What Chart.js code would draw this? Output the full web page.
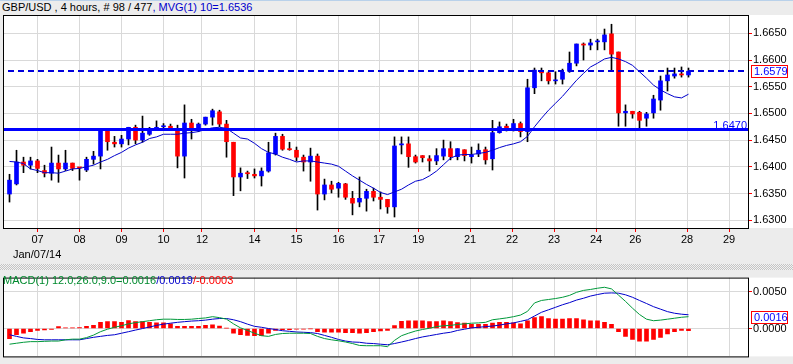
<!DOCTYPE html>
<html>
<head>
<meta charset="utf-8">
<script src="https://cdn.jsdelivr.net/npm/chart.js@4.4.1/dist/chart.umd.min.js"></script>
<style>
  html, body { margin: 0; padding: 0; }
  body {
    width: 793px; height: 364px; background: #ececec; position: relative; overflow: hidden;
    font: 11px "Liberation Sans", Arial, sans-serif; color: #000;
  }
  canvas { position: absolute; left: 0; }
  #priceChart { top: 0; }
  #macdChart { top: 270px; }
  .txt { position: absolute; white-space: nowrap; z-index: 2; }
  #title {
    top: 0; left: 0; width: 793px; height: 15px; box-sizing: border-box;
    border-top: 1px solid #b9d1ea; background: #ececec; padding-left: 2px; line-height: 13px;
  }
  #dateNote { left: 13px; top: 247px; line-height: 14px; }
  #macdTitle { left: 3px; top: 274px; line-height: 12px; }
  #splitter {
    position: absolute; left: 0; top: 264px; width: 793px; height: 6px;
    background: repeating-conic-gradient(#c4c4c4 0 25%, #f2f2f2 0 50%) 0 0 / 2px 2px;
  }
  .blue { color: #0000cc; }
  .green { color: #008a2e; }
  .red { color: #ff0000; }
</style>
</head>
<body>
<canvas id="priceChart" width="793" height="262"></canvas>
<canvas id="macdChart" width="793" height="94"></canvas>
<div id="title" class="txt">GBP/USD , 4 hours, # 98 / 477<span class="blue">, MVG(1) 10=1.6536</span></div>
<div id="dateNote" class="txt">Jan/07/14</div>
<div id="splitter"></div>
<div id="macdTitle" class="txt"><span class="green">MACD(1) 12.0;26.0;9.0=0.0016</span><span class="blue">/0.0019</span><span class="red">/-0.0003</span></div>
<script>
// GBP/USD 4h candles (index 0 = first bar)
const opens = [
  1.6349,1.6368,1.6409,1.6403,1.6411,1.6393,1.6388,1.6407,1.6396,1.6407,
  1.6399,1.6394,1.6414,1.6420,1.6469,1.6446,1.6443,1.6452,1.6474,1.6450,
  1.6461,1.6471,1.6475,1.6476,1.6471,1.6420,1.6482,1.6469,1.6480,1.6493,
  1.6503,1.6480,1.6446,1.6381,1.6389,1.6386,1.6383,1.6392,1.6424,1.6457,
  1.6434,1.6431,1.6418,1.6409,1.6420,1.6349,1.6366,1.6360,1.6368,1.6341,
  1.6334,1.6341,1.6354,1.6343,1.6339,1.6325,1.6441,1.6443,1.6419,1.6421,
  1.6415,1.6411,1.6420,1.6434,1.6419,1.6432,1.6419,1.6424,1.6432,1.6415,
  1.6464,1.6476,1.6469,1.6481,1.6466,1.6548,1.6578,1.6576,1.6561,1.6564,
  1.6579,1.6594,1.6630,1.6628,1.6634,1.6634,1.6649,1.6615,1.6501,1.6504,
  1.6502,1.6491,1.6501,1.6525,1.6561,1.6570,1.6574,1.6572
];
const highs = [
  1.6386,1.6431,1.6418,1.6418,1.6414,1.6403,1.6437,1.6422,1.6431,1.6407,
  1.6399,1.6418,1.6429,1.6472,1.6472,1.6457,1.6459,1.6474,1.6478,1.6495,
  1.6474,1.6486,1.6481,1.6480,1.6478,1.6516,1.6489,1.6482,1.6493,1.6508,
  1.6506,1.6487,1.6446,1.6398,1.6392,1.6396,1.6398,1.6446,1.6463,1.6461,
  1.6446,1.6437,1.6422,1.6435,1.6424,1.6377,1.6373,1.6371,1.6369,1.6354,
  1.6381,1.6358,1.6360,1.6353,1.6339,1.6456,1.6456,1.6456,1.6422,1.6421,
  1.6421,1.6434,1.6450,1.6447,1.6434,1.6432,1.6437,1.6443,1.6437,1.6487,
  1.6484,1.6480,1.6489,1.6484,1.6564,1.6585,1.6585,1.6578,1.6578,1.6583,
  1.6615,1.6630,1.6632,1.6639,1.6639,1.6658,1.6667,1.6615,1.6516,1.6504,
  1.6504,1.6502,1.6534,1.6570,1.6585,1.6585,1.6587,1.6585
];
const lows = [
  1.6334,1.6366,1.6389,1.6396,1.6389,1.6381,1.6375,1.6371,1.6393,1.6393,
  1.6375,1.6391,1.6405,1.6396,1.6431,1.6437,1.6437,1.6441,1.6443,1.6446,
  1.6459,1.6469,1.6471,1.6469,1.6398,1.6379,1.6452,1.6466,1.6478,1.6478,
  1.6475,1.6418,1.6346,1.6355,1.6378,1.6379,1.6364,1.6390,1.6422,1.6431,
  1.6431,1.6411,1.6392,1.6373,1.6319,1.6338,1.6351,1.6343,1.6339,1.6310,
  1.6325,1.6317,1.6336,1.6321,1.6313,1.6306,1.6424,1.6399,1.6407,1.6409,
  1.6392,1.6404,1.6413,1.6413,1.6413,1.6411,1.6407,1.6419,1.6405,1.6394,
  1.6463,1.6467,1.6467,1.6456,1.6447,1.6537,1.6561,1.6555,1.6555,1.6555,
  1.6577,1.6589,1.6600,1.6619,1.6619,1.6619,1.6581,1.6476,1.6476,1.6491,
  1.6472,1.6476,1.6491,1.6506,1.6542,1.6566,1.6568,1.6568
];
const closes = [
  1.6375,1.6409,1.6403,1.6411,1.6397,1.6388,1.6407,1.6396,1.6407,1.6397,
  1.6398,1.6414,1.6420,1.6469,1.6447,1.6443,1.6452,1.6474,1.6450,1.6463,
  1.6471,1.6474,1.6476,1.6471,1.6420,1.6482,1.6473,1.6480,1.6493,1.6505,
  1.6480,1.6447,1.6381,1.6388,1.6387,1.6383,1.6392,1.6426,1.6457,1.6433,
  1.6432,1.6418,1.6409,1.6420,1.6349,1.6366,1.6358,1.6369,1.6343,1.6332,
  1.6341,1.6354,1.6343,1.6339,1.6325,1.6439,1.6443,1.6419,1.6409,1.6417,
  1.6411,1.6421,1.6434,1.6419,1.6434,1.6421,1.6422,1.6431,1.6413,1.6464,
  1.6475,1.6471,1.6481,1.6466,1.6548,1.6581,1.6576,1.6561,1.6562,1.6577,
  1.6594,1.6630,1.6628,1.6632,1.6635,1.6647,1.6611,1.6501,1.6504,1.6499,
  1.6487,1.6499,1.6527,1.6561,1.6572,1.6574,1.6572,1.6579
];
// MVG(1) 10 line as drawn
const mvg10 = [
  1.6410,1.6409,1.6406,1.6396,1.6393,1.6389,1.6389,1.6388,1.6392,1.6396,
  1.6397,1.6400,1.6403,1.6409,1.6414,1.6421,1.6427,1.6435,1.6441,1.6446,
  1.6453,1.6456,1.6461,1.6461,1.6461,1.6463,1.6464,1.6466,1.6470,1.6473,
  1.6474,1.6472,1.6463,1.6454,1.6452,1.6444,1.6434,1.6427,1.6424,1.6418,
  1.6414,1.6409,1.6411,1.6411,1.6409,1.6407,1.6405,1.6401,1.6392,1.6383,
  1.6375,1.6367,1.6360,1.6352,1.6348,1.6353,1.6358,1.6366,1.6373,1.6376,
  1.6383,1.6392,1.6404,1.6416,1.6422,1.6423,1.6423,1.6425,1.6427,1.6431,
  1.6436,1.6440,1.6443,1.6447,1.6457,1.6475,1.6491,1.6506,1.6519,1.6532,
  1.6547,1.6562,1.6575,1.6587,1.6594,1.6602,1.6605,1.6602,1.6597,1.6590,
  1.6578,1.6566,1.6553,1.6544,1.6537,1.6531,1.6529,1.6536
];
// MACD(12,26,9) panel
const macdLine = [
  -0.00214,-0.00201,-0.00188,-0.00179,-0.00179,-0.00175,-0.00171,-0.00171,-0.00154,-0.00145,
  -0.00145,-0.00124,-0.00090,-0.00043,-0.00009,0.00017,0.00038,0.00064,0.00081,0.00094,
  0.00107,0.00120,0.00128,0.00128,0.00124,0.00124,0.00128,0.00137,0.00145,0.00162,
  0.00149,0.00128,0.00064,0.00009,-0.00026,-0.00064,-0.00098,-0.00107,-0.00081,-0.00068,
  -0.00064,-0.00064,-0.00064,-0.00068,-0.00107,-0.00137,-0.00154,-0.00167,-0.00184,-0.00205,
  -0.00231,-0.00235,-0.00235,-0.00235,-0.00248,-0.00162,-0.00098,-0.00064,-0.00034,-0.00013,
  0.00004,0.00026,0.00038,0.00043,0.00056,0.00064,0.00073,0.00077,0.00085,0.00120,
  0.00132,0.00145,0.00162,0.00184,0.00235,0.00350,0.00384,0.00397,0.00410,0.00427,
  0.00453,0.00495,0.00521,0.00534,0.00551,0.00564,0.00542,0.00457,0.00371,0.00278,
  0.00192,0.00128,0.00107,0.00115,0.00128,0.00141,0.00154,0.00162
];
const signalLine = [
  -0.00085,-0.00107,-0.00128,-0.00137,-0.00149,-0.00154,-0.00154,-0.00154,-0.00154,-0.00154,
  -0.00154,-0.00137,-0.00120,-0.00107,-0.00094,-0.00085,-0.00064,-0.00043,-0.00021,0.00000,
  0.00021,0.00043,0.00060,0.00073,0.00085,0.00094,0.00102,0.00107,0.00115,0.00128,
  0.00137,0.00137,0.00120,0.00094,0.00060,0.00030,0.00017,0.00000,-0.00013,-0.00030,
  -0.00038,-0.00047,-0.00051,-0.00056,-0.00068,-0.00094,-0.00120,-0.00149,-0.00171,-0.00184,
  -0.00188,-0.00201,-0.00205,-0.00214,-0.00222,-0.00205,-0.00184,-0.00162,-0.00137,-0.00115,
  -0.00098,-0.00081,-0.00064,-0.00051,-0.00026,-0.00009,0.00009,0.00017,0.00026,0.00034,
  0.00047,0.00064,0.00077,0.00098,0.00120,0.00171,0.00222,0.00256,0.00290,0.00325,
  0.00354,0.00389,0.00414,0.00444,0.00465,0.00483,0.00487,0.00483,0.00461,0.00427,
  0.00384,0.00342,0.00299,0.00265,0.00231,0.00209,0.00196,0.00188
];
const macdHist = [
  -0.00137,-0.00085,-0.00064,-0.00043,-0.00026,-0.00020,-0.00013,0.00026,0.00009,0.00009,
  0.00013,0.00030,0.00043,0.00085,0.00094,0.00094,0.00085,0.00110,0.00094,0.00094,
  0.00085,0.00077,0.00077,0.00064,0.00030,0.00030,0.00030,0.00030,0.00043,0.00051,
  0.00034,0.00004,-0.00064,-0.00085,-0.00094,-0.00098,-0.00098,-0.00064,-0.00026,-0.00017,
  -0.00017,-0.00010,-0.00010,-0.00004,-0.00043,-0.00051,-0.00051,-0.00051,-0.00055,-0.00055,
  -0.00064,-0.00055,-0.00043,-0.00034,-0.00026,0.00040,0.00098,0.00107,0.00107,0.00107,
  0.00094,0.00094,0.00107,0.00094,0.00081,0.00073,0.00056,0.00056,0.00056,0.00073,
  0.00085,0.00085,0.00077,0.00064,0.00107,0.00150,0.00162,0.00137,0.00128,0.00128,
  0.00137,0.00137,0.00120,0.00107,0.00107,0.00085,0.00056,-0.00043,-0.00107,-0.00150,
  -0.00171,-0.00171,-0.00150,-0.00120,-0.00073,-0.00043,-0.00026,-0.00030
];

// day separators (in bar index units) and their labels
const dayTicks = [4, 10, 16, 22, 27.5, 35, 41, 47, 52.8, 58.4, 65.8, 71.8, 77.8, 83.8, 89.4, 96.8, 102.8];
const dayLabels = ['07','08','09','10','12','14','15','16','17','19','21','22','23','24','26','28','29'];
const priceTicks = [1.6300, 1.6350, 1.6400, 1.6450, 1.6500, 1.6550, 1.6600, 1.6650];
const macdTicks = [0, 0.005];
const supportLevel = 1.6470;
const lastPrice = 1.6579;
const lastMacd = 0.0016;

const FONT = '"Liberation Sans", Arial, sans-serif';
Chart.defaults.font.family = FONT;
Chart.defaults.font.size = 11;
Chart.defaults.color = '#000';

const X_MIN = -13 / 14;
const X_MAX = 105.5;
const GRID = '#d9d9d9';

// white plot + axis background, black frame
const framePlugin = {
  id: 'frame',
  beforeDraw(chart) {
    const { ctx, chartArea: a } = chart;
    ctx.save();
    ctx.fillStyle = '#fff';
    ctx.fillRect(a.left, a.top, chart.width - a.left, a.bottom - a.top);
    ctx.restore();
  },
  afterDraw(chart) {
    const { ctx, chartArea: a } = chart;
    ctx.save();
    ctx.strokeStyle = '#000';
    ctx.lineWidth = 1;
    ctx.strokeRect(a.left + 0.5, a.top + 0.5, a.right - a.left, a.bottom - a.top);
    ctx.restore();
  }
};

function drawValueBox(chart, value, text) {
  const { ctx, chartArea: a, scales: { y } } = chart;
  const yc = Math.round(y.getPixelForValue(value));
  ctx.save();
  ctx.fillStyle = '#fff';
  ctx.fillRect(a.right + 3, yc - 6, 37, 13);
  ctx.strokeStyle = '#ff0000';
  ctx.lineWidth = 1;
  ctx.strokeRect(a.right + 3.5, yc - 5.5, 36, 12);
  ctx.fillStyle = '#0000ff';
  ctx.font = '11px ' + FONT;
  ctx.textAlign = 'left';
  ctx.textBaseline = 'middle';
  ctx.fillText(text, a.right + 6, yc + 1);
  ctx.restore();
}

const levelsPlugin = {
  id: 'levels',
  afterDatasetsDraw(chart) {
    const { ctx, chartArea: a, scales: { y } } = chart;
    ctx.save();
    ctx.beginPath();
    ctx.rect(a.left, a.top, a.right - a.left, a.bottom - a.top);
    ctx.clip();
    // support line
    const ys = Math.round(y.getPixelForValue(supportLevel));
    ctx.fillStyle = '#0000ff';
    ctx.fillRect(a.left, ys - 1, a.right - a.left, 3);
    // last price dashed line
    const yd = Math.round(y.getPixelForValue(lastPrice));
    ctx.strokeStyle = '#0000dd';
    ctx.lineWidth = 2;
    ctx.setLineDash([6, 4]);
    ctx.beginPath();
    ctx.moveTo(a.left + 5, yd);
    ctx.lineTo(a.right, yd);
    ctx.stroke();
    ctx.setLineDash([]);
    ctx.font = '11px ' + FONT;
    ctx.fillStyle = '#0000ff';
    ctx.textAlign = 'right';
    ctx.textBaseline = 'alphabetic';
    ctx.fillText(supportLevel.toFixed(4), a.right - 1, ys);
    ctx.restore();
  },
  afterDraw(chart) {
    drawValueBox(chart, lastPrice, lastPrice.toFixed(4));
  }
};

const macdBoxPlugin = {
  id: 'macdBox',
  afterDraw(chart) {
    drawValueBox(chart, lastMacd, lastMacd.toFixed(4));
  }
};

function xScale(showLabels) {
  return {
    type: 'linear',
    min: X_MIN,
    max: X_MAX,
    offset: false,
    border: { display: false },
    grid: { color: GRID, offset: false, tickColor: '#ff0000', tickLength: 4, drawTicks: showLabels },
    ticks: {
      display: showLabels,
      padding: 1,
      maxRotation: 0,
      autoSkip: false,
      callback: (v, i) => dayLabels[i]
    },
    afterBuildTicks: (s) => { s.ticks = dayTicks.map(v => ({ value: v })); },
    afterFit: (s) => { s.height = showLabels ? 34 : 6; }
  };
}

function yScale(min, max, tickValues) {
  return {
    position: 'right',
    min, max,
    border: { display: false },
    grid: { color: GRID, tickColor: '#ff0000', tickLength: 4 },
    ticks: { padding: 1, callback: v => Number(v).toFixed(4) },
    afterBuildTicks: (s) => { s.ticks = tickValues.map(v => ({ value: v })); },
    afterFit: (s) => { s.width = 45; }
  };
}

new Chart(document.getElementById('priceChart'), {
  type: 'bar',
  data: {
    datasets: [
      {
        label: 'wick',
        data: lows.map((l, i) => ({ x: i, y: [l, highs[i]] })),
        backgroundColor: '#000',
        barThickness: 1,
        maxBarThickness: 1,
        grouped: false,
        order: 3
      },
      {
        label: 'body',
        data: opens.map((o, i) => ({ x: i, y: [o, closes[i]] })),
        backgroundColor: opens.map((o, i) => closes[i] >= o ? '#0000ff' : '#ff0000'),
        barThickness: 4,
        maxBarThickness: 4,
        minBarLength: 1,
        grouped: false,
        order: 2
      },
      {
        type: 'line',
        label: 'MVG(1) 10',
        data: mvg10.map((v, i) => ({ x: i, y: v })),
        borderColor: '#0000cc',
        borderWidth: 1,
        pointRadius: 0,
        tension: 0,
        order: 1
      }
    ]
  },
  options: {
    responsive: false,
    animation: false,
    devicePixelRatio: 1,
    events: [],
    layout: { padding: { left: 3, top: 15, right: 0, bottom: 0 } },
    plugins: { legend: { display: false }, tooltip: { enabled: false } },
    scales: {
      x: xScale(true),
      y: yScale(1.62854, 1.66843, priceTicks)
    }
  },
  plugins: [framePlugin, levelsPlugin]
});

new Chart(document.getElementById('macdChart'), {
  type: 'bar',
  data: {
    datasets: [
      {
        label: 'hist',
        data: macdHist.map((v, i) => ({ x: i, y: v })),
        backgroundColor: '#ff0000',
        barThickness: 4,
        maxBarThickness: 4,
        grouped: false,
        order: 3
      },
      {
        type: 'line',
        label: 'signal',
        data: signalLine.map((v, i) => ({ x: i, y: v })),
        borderColor: '#0000cc',
        borderWidth: 1,
        pointRadius: 0,
        tension: 0,
        order: 2
      },
      {
        type: 'line',
        label: 'MACD',
        data: macdLine.map((v, i) => ({ x: i, y: v })),
        borderColor: '#00993a',
        borderWidth: 1,
        pointRadius: 0,
        tension: 0,
        order: 1
      }
    ]
  },
  options: {
    responsive: false,
    animation: false,
    devicePixelRatio: 1,
    events: [],
    layout: { padding: { left: 3, top: 4, right: 0, bottom: 0 } },
    plugins: { legend: { display: false }, tooltip: { enabled: false } },
    scales: {
      x: xScale(false),
      y: yScale(-0.003808, 0.006962, macdTicks)
    }
  },
  plugins: [framePlugin, macdBoxPlugin]
});
</script>
</body>
</html>
